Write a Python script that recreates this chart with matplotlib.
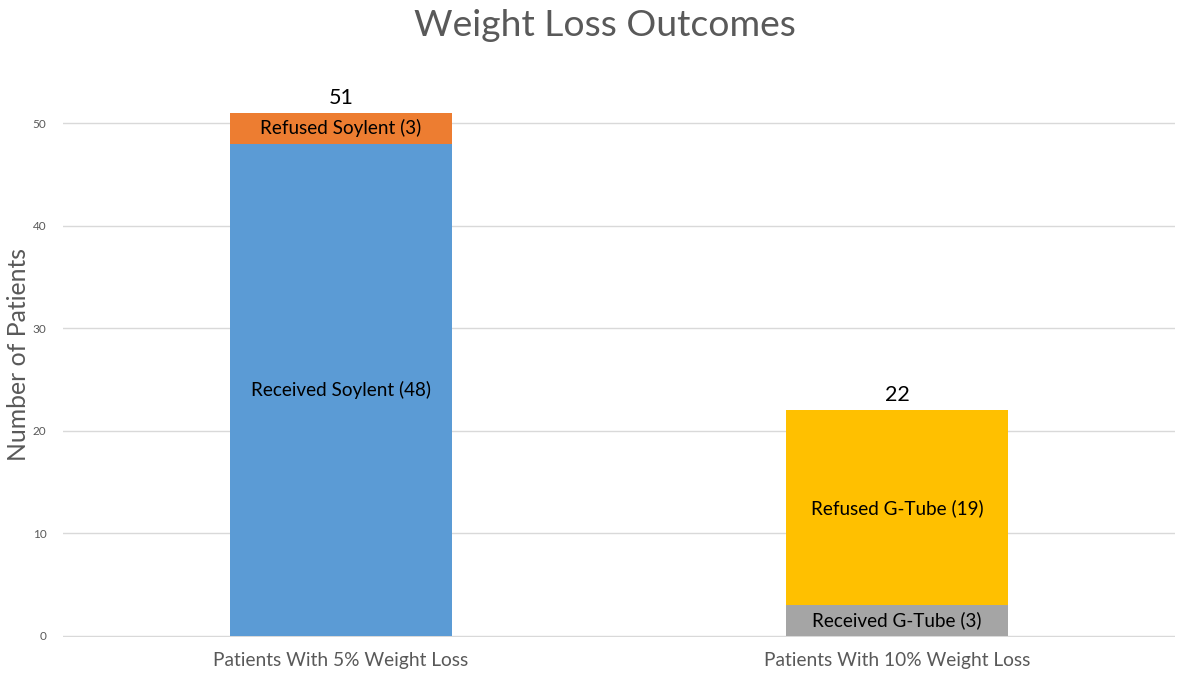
import numpy as np
import matplotlib
matplotlib.use("Agg")
import matplotlib.pyplot as plt

plt.rcParams['font.family'] = ['Lato', 'DejaVu Sans']

categories = ['Patients With 5% Weight Loss', 'Patients With 10% Weight Loss']
bottom_vals = [48, 3]
top_vals = [3, 19]
bottom_labels = ['Received Soylent (48)', 'Received G-Tube (3)']
top_labels = ['Refused Soylent (3)', 'Refused G-Tube (19)']
bottom_colors = ['#5B9BD5', '#A5A5A5']
top_colors = ['#ED7D31', '#FFC000']
totals = [b + t for b, t in zip(bottom_vals, top_vals)]

grey = '#595959'
fig = plt.figure(figsize=(11.81, 6.76), dpi=100)
ax = fig.add_axes([63/1181, 1 - 637/676, (1175 - 63)/1181, (637 - 72)/676])

x = np.arange(len(categories))
ax.bar(x, bottom_vals, width=0.4, color=bottom_colors, zorder=2)
ax.bar(x, top_vals, width=0.4, bottom=bottom_vals, color=top_colors, zorder=2)

for i in range(len(categories)):
    ax.text(x[i], bottom_vals[i] / 2, bottom_labels[i], ha='center', va='center',
            fontsize=13.6, color='black', zorder=3)
    ax.text(x[i], bottom_vals[i] + top_vals[i] / 2, top_labels[i], ha='center', va='center',
            fontsize=13.6, color='black', zorder=3)
    ax.text(x[i], totals[i] + 0.5, str(totals[i]), ha='center', va='bottom',
            fontsize=15.5, color='black', zorder=3)

ax.set_xlim(-0.5, 1.5)
ax.set_ylim(-0.1, 55)
ax.set_yticks([0, 10, 20, 30, 40, 50])
ax.grid(axis='y', color='#D9D9D9', linewidth=1, zorder=0)
for s in ax.spines.values():
    s.set_visible(False)
ax.tick_params(axis='both', length=0)
ax.tick_params(axis='y', labelsize=8.5, labelcolor=grey, pad=12)
ax.set_xticks(x)
ax.set_xticklabels(categories, fontsize=13.8, color=grey)
ax.tick_params(axis='x', pad=11)

ax.set_ylabel('Number of Patients', fontsize=17.8, color=grey, labelpad=2)
fig.text(0.512, 0.963, 'Weight Loss Outcomes', ha='center', va='center',
         fontsize=26.8, color=grey)

fig.savefig('out.png', dpi=100)
